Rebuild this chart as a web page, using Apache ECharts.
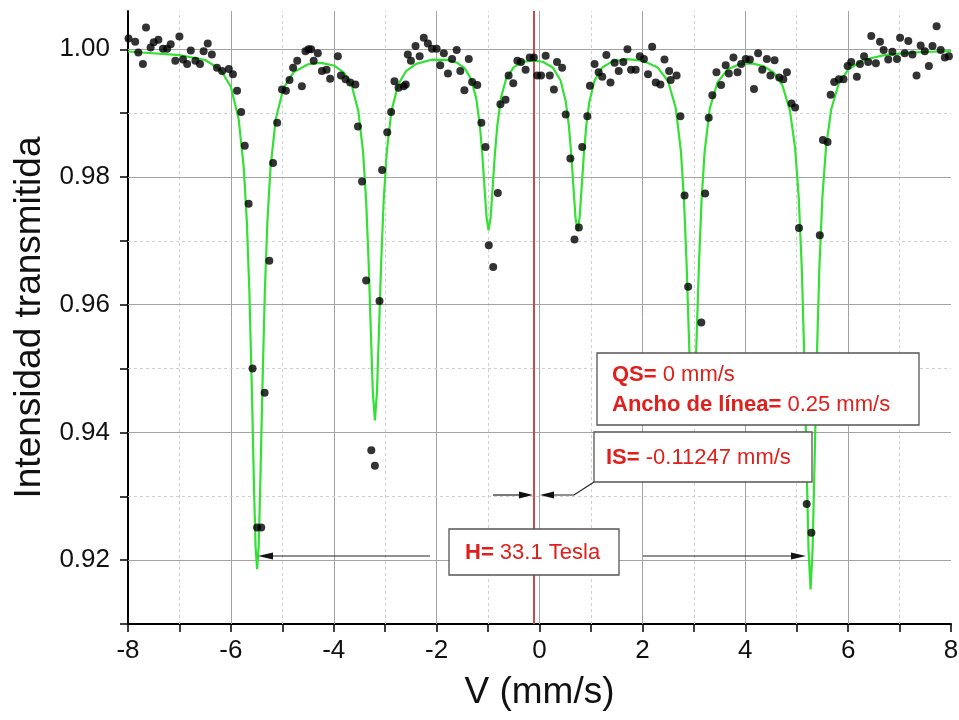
<!DOCTYPE html>
<html><head><meta charset="utf-8">
<script src="https://cdn.jsdelivr.net/npm/echarts@6/dist/echarts.min.js"></script>
<style>html,body{margin:0;padding:0;background:#fff}#c{width:959px;height:720px}</style>
</head><body><div id="c"></div>
<script>
// Measured points (velocity mm/s, transmitted intensity)
const pointV = [-7.99,-7.86,-7.80,-7.71,-7.65,-7.56,-7.50,-7.41,-7.32,-7.24,-7.17,-7.08,-7.00,-6.93,-6.85,-6.78,-6.69,-6.60,-6.53,-6.45,-6.37,-6.27,-6.17,-6.04,-5.96,-5.88,-5.80,-5.73,-5.655,-5.578,-5.49,-5.41,-5.344,-5.253,-5.18,-5.10,-5.006,-4.93,-4.86,-4.79,-4.71,-4.62,-4.55,-4.49,-4.44,-4.39,-4.31,-4.23,-4.14,-4.07,-3.92,-3.86,-3.77,-3.68,-3.58,-3.53,-3.45,-3.37,-3.27,-3.20,-3.11,-3.06,-2.96,-2.885,-2.82,-2.74,-2.64,-2.60,-2.56,-2.50,-2.41,-2.33,-2.25,-2.17,-2.09,-2.00,-1.93,-1.86,-1.78,-1.70,-1.61,-1.54,-1.46,-1.375,-1.31,-1.21,-1.13,-1.05,-0.986,-0.90,-0.81,-0.76,-0.66,-0.60,-0.51,-0.43,-0.36,-0.27,-0.19,-0.11,-0.045,0.03,0.12,0.20,0.28,0.34,0.44,0.51,0.60,0.68,0.765,0.83,0.93,0.98,1.07,1.15,1.22,1.30,1.38,1.46,1.54,1.63,1.71,1.78,1.87,1.95,2.03,2.11,2.19,2.26,2.35,2.43,2.52,2.55,2.665,2.74,2.82,2.89,3.146,3.22,3.29,3.36,3.44,3.53,3.62,3.68,3.77,3.85,3.92,4.01,4.09,4.17,4.25,4.33,4.42,4.49,4.57,4.66,4.74,4.81,4.90,4.97,5.045,5.195,5.286,5.45,5.51,5.60,5.66,5.73,5.82,5.91,5.99,6.06,6.17,6.23,6.31,6.39,6.45,6.54,6.62,6.69,6.78,6.86,6.95,7.01,7.10,7.17,7.25,7.33,7.41,7.49,7.57,7.64,7.72,7.80,7.88,7.96];
const pointI = [1.0017,1.0012,0.9995,0.9977,1.0034,1.0003,1.0011,1.0015,1.0001,1.0001,1.0008,0.9982,1.0020,0.9984,0.9977,0.9998,0.9982,0.9977,0.9997,1.0009,0.9992,0.9971,0.9966,0.9969,0.9961,0.9935,0.9902,0.9849,0.9758,0.9500,0.9251,0.9251,0.9462,0.9669,0.9822,0.9885,0.9937,0.9935,0.9952,0.9971,0.9982,0.9942,0.9997,1.0000,1.0000,0.9982,0.9994,0.9966,0.9968,0.9954,0.9989,0.9959,0.9953,0.9948,0.9945,0.9879,0.9793,0.9638,0.9372,0.9348,0.9606,0.9811,0.9870,0.9902,0.9950,0.9940,0.9942,0.9945,0.9992,0.9982,1.0005,0.9989,1.0018,1.0009,1.0001,1.0001,0.9975,0.9994,0.9962,0.9985,0.9999,0.9966,0.9936,0.9985,0.9949,0.9944,0.9885,0.9847,0.9693,0.9659,0.9775,0.9914,0.9921,0.9959,0.9947,0.9982,0.9980,0.9968,0.9987,0.9987,0.9959,0.9959,0.9990,0.9959,0.9937,0.9980,0.9971,0.9898,0.9829,0.9702,0.9721,0.9847,0.9895,0.9943,0.9977,0.9964,0.9957,0.9991,0.9948,0.9979,0.9966,0.9980,1.0000,0.9968,0.9968,0.9989,0.9985,0.9961,1.0004,0.9948,0.9945,0.9984,0.9966,0.9952,0.9959,0.9895,0.9771,0.9628,0.9572,0.9774,0.9893,0.9928,0.9964,0.9944,0.9975,0.9962,0.9987,0.9964,0.9977,0.9985,0.9984,0.9938,0.9994,0.9968,0.9985,0.9959,0.9983,0.9956,0.9953,0.9964,0.9915,0.9909,0.9720,0.9288,0.9243,0.9709,0.9858,0.9855,0.9929,0.9949,0.9953,0.9953,0.9974,0.9980,0.9957,0.9977,0.9989,0.9980,1.0021,0.9978,1.0012,0.9999,0.9984,0.9996,0.9985,1.0018,0.9994,1.0013,0.9992,0.9959,1.0006,0.9997,0.9974,1.0005,1.0036,0.9999,0.9987,0.9989];

// Fitted curve
const curveV = [-8.0,-7.0,-6.5,-6.2,-6.0,-5.85,-5.75,-5.69,-5.64,-5.59,-5.55,-5.52,-5.49,-5.46,-5.43,-5.39,-5.34,-5.29,-5.23,-5.13,-4.98,-4.78,-4.5,-4.25,-4.0,-3.8,-3.65,-3.52,-3.43,-3.37,-3.32,-3.28,-3.24,-3.20,-3.16,-3.12,-3.08,-3.03,-2.97,-2.88,-2.75,-2.6,-2.4,-2.1,-1.8,-1.6,-1.45,-1.33,-1.23,-1.16,-1.11,-1.07,-1.03,-0.99,-0.95,-0.91,-0.87,-0.82,-0.75,-0.65,-0.5,-0.3,-0.12,0.06,0.26,0.41,0.51,0.57,0.62,0.66,0.70,0.74,0.78,0.82,0.86,0.91,0.97,1.07,1.22,1.42,1.7,2.0,2.3,2.5,2.65,2.75,2.81,2.86,2.90,2.94,2.98,3.02,3.06,3.10,3.15,3.21,3.31,3.46,3.66,3.9,4.13,4.35,4.55,4.72,4.87,4.97,5.04,5.10,5.15,5.19,5.23,5.27,5.31,5.35,5.39,5.44,5.50,5.57,5.67,5.82,6.0,6.3,6.7,7.2,7.6,8.0];
const curveI = [0.99966,0.99909,0.99833,0.99680,0.99413,0.98913,0.98155,0.97310,0.96200,0.94600,0.93120,0.92216,0.91860,0.92200,0.93130,0.94600,0.96200,0.97300,0.98141,0.98896,0.99388,0.99643,0.99766,0.99787,0.99747,0.99636,0.99432,0.99021,0.98393,0.97622,0.96630,0.95608,0.94625,0.94190,0.94630,0.95610,0.96630,0.97620,0.98390,0.99025,0.99443,0.99653,0.99772,0.99837,0.99835,0.99789,0.99700,0.99533,0.99232,0.98815,0.98338,0.97847,0.97374,0.97165,0.97360,0.97840,0.98330,0.98805,0.99235,0.99534,0.99721,0.99807,0.99822,0.99805,0.99714,0.99511,0.99184,0.98811,0.98333,0.97839,0.97365,0.97155,0.97365,0.97840,0.98330,0.98810,0.99180,0.99510,0.99715,0.99811,0.99846,0.99823,0.99714,0.99500,0.99077,0.98398,0.97627,0.96635,0.95613,0.94630,0.94195,0.94630,0.95610,0.96630,0.97620,0.98393,0.99072,0.99481,0.99689,0.99769,0.99779,0.99739,0.99637,0.99441,0.99036,0.98450,0.97679,0.96552,0.95107,0.93607,0.92171,0.91540,0.92181,0.93620,0.95110,0.96560,0.97689,0.98460,0.99057,0.99468,0.99683,0.99832,0.99908,0.99947,0.99962,0.99972];

const xTickValues = [-8,-7,-6,-5,-4,-3,-2,-1,0,1,2,3,4,5,6,7,8];
const xLabelValues = [-8,-6,-4,-2,0,2,4,6,8];
const yTickValues = [0.91,0.92,0.93,0.94,0.95,0.96,0.97,0.98,0.99,1.00];
const yLabelValues = [0.92,0.94,0.96,0.98,1.00];
const xMajorGrid = [-6,-4,-2,0,2,4,6];
const xMinorGrid = [-7,-5,-3,-1,1,3,5,7];
const yMajorGrid = [0.92,0.94,0.96,0.98,1.00];
const yMinorGrid = [0.93,0.95,0.97,0.99];
const isomerShiftLine = -0.11247;

const FONT = '"Liberation Sans", Arial, sans-serif';
const RED = '#e0201c';
const chart = echarts.init(document.getElementById('c'), null, {renderer: 'canvas'});

const gridLines = []
  .concat(xMajorGrid.map(v => ({xAxis: v, lineStyle: {color: '#a3a3a3', width: 1, type: 'solid'}})))
  .concat(xMinorGrid.map(v => ({xAxis: v, lineStyle: {color: '#cfcfcf', width: 1, type: [3, 3]}})))
  .concat(yMajorGrid.map(v => ({yAxis: v, lineStyle: {color: '#a3a3a3', width: 1, type: 'solid'}})))
  .concat(yMinorGrid.map(v => ({yAxis: v, lineStyle: {color: '#cfcfcf', width: 1, type: [3, 3]}})));

const rich = {
  b: {fontFamily: FONT, fontSize: 22, fontWeight: 'bold', fill: RED, lineHeight: 30},
  n: {fontFamily: FONT, fontSize: 22, fontWeight: 'normal', fill: RED, lineHeight: 30}
};
const box = (x, y, w, h) => ({type: 'rect', z: 100, shape: {x, y, width: w, height: h},
  style: {fill: '#fff', stroke: '#555', lineWidth: 1.3}});
const txt = (x, y, t) => ({type: 'text', z: 101, x, y,
  style: {text: t, rich, verticalAlign: 'top', align: 'left', fontFamily: FONT, fontSize: 22, fill: RED}});
const seg = (pts) => ({type: 'polyline', z: 100, shape: {points: pts}, style: {stroke: '#222', lineWidth: 1.2, fill: null}});
const head = (pts) => ({type: 'polygon', z: 101, shape: {points: pts}, style: {fill: '#111'}});

chart.setOption({
  animation: false,
  backgroundColor: '#fff',
  grid: {left: 128, right: 8, top: 11, bottom: 96, containLabel: false, outerBoundsMode: 'none'},
  xAxis: {
    type: 'value', min: -8, max: 8, interval: 1,
    name: 'V (mm/s)', nameLocation: 'middle', nameGap: 50,
    nameTextStyle: {fontFamily: FONT, fontSize: 37, color: '#111'},
    axisLine: {show: true, onZero: false, lineStyle: {color: '#000', width: 2}},
    axisTick: {show: true, length: 8, customValues: xTickValues, lineStyle: {color: '#000', width: 1.5}},
    axisLabel: {show: true, customValues: xLabelValues, margin: 14, fontFamily: FONT, fontSize: 26, color: '#111',
      formatter: v => String(v)},
    splitLine: {show: false}
  },
  yAxis: {
    type: 'value', min: 0.91, max: 1.006, interval: 0.01,
    name: 'Intensidad transmitida', nameLocation: 'middle', nameGap: 78,
    nameTextStyle: {fontFamily: FONT, fontSize: 37, color: '#111'},
    axisLine: {show: true, onZero: false, lineStyle: {color: '#000', width: 2}},
    axisTick: {show: true, length: 8, customValues: yTickValues, lineStyle: {color: '#000', width: 1.5}},
    axisLabel: {show: true, customValues: yLabelValues, margin: 18, fontFamily: FONT, fontSize: 26, color: '#111',
      formatter: v => v.toFixed(2)},
    splitLine: {show: false}
  },
  series: [
    {
      type: 'line', name: 'grid', data: [], silent: true, z: 1,
      markLine: {silent: true, z: 1, symbol: 'none', label: {show: false}, animation: false, data: gridLines}
    },
    {
      type: 'line', name: 'IS', data: [], silent: true, z: 2,
      markLine: {silent: true, z: 2, symbol: 'none', label: {show: false}, animation: false,
        data: [{xAxis: isomerShiftLine, lineStyle: {color: '#c94a4a', width: 2, type: 'solid'}}]}
    },
    {
      type: 'line', name: 'ajuste', z: 3, showSymbol: false, smooth: false,
      lineStyle: {color: '#35e035', width: 2.2},
      data: curveV.map((v, i) => [v, curveI[i]])
    },
    {
      type: 'scatter', name: 'datos', z: 4, symbol: 'circle', symbolSize: 8,
      itemStyle: {color: '#000'},
      data: pointV.map((v, i) => [v, pointI[i]])
    }
  ],
  graphic: [
    box(597, 353, 322, 72),
    txt(612, 360, '{b|QS=}{n| 0 mm/s}\n{b|Ancho de línea=}{n| 0.25 mm/s}'),
    box(594, 432, 218, 50),
    txt(606, 443, '{b|IS=}{n| -0.11247 mm/s}'),
    box(449, 529, 170, 46),
    txt(465, 538, '{b|H=}{n| 33.1 Tesla}'),
    // H arrows
    seg([[430, 556], [270, 556]]),
    head([[258, 556], [273, 552.5], [273, 559.5]]),
    seg([[643, 556], [794, 556]]),
    head([[806, 556], [791, 552.5], [791, 559.5]]),
    // IS arrows
    seg([[594, 482], [574, 495], [550, 495]]),
    head([[540, 495], [554, 491.5], [554, 498.5]]),
    seg([[493, 495], [522, 495]]),
    head([[533, 495], [519, 491.5], [519, 498.5]])
  ]
});
</script></body></html>
